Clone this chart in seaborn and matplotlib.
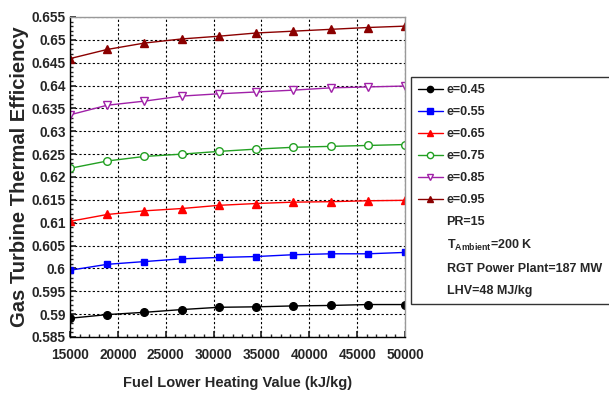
import numpy as np
import pandas as pd
import matplotlib
matplotlib.use("Agg")
import matplotlib.pyplot as plt
from matplotlib.lines import Line2D
from matplotlib.ticker import MultipleLocator, FormatStrFormatter
import seaborn as sns

lhv = [15000, 18889, 22778, 26667, 30556, 34444, 38333, 42222, 46111, 50000]
eff_045 = [0.5891, 0.5899, 0.5904, 0.5910, 0.5915, 0.5916, 0.5918, 0.5919, 0.5921, 0.5921]
eff_055 = [0.5996, 0.6009, 0.6015, 0.6021, 0.6024, 0.6026, 0.6030, 0.6032, 0.6032, 0.6035]
eff_065 = [0.6103, 0.6118, 0.6126, 0.6131, 0.6138, 0.6142, 0.6145, 0.6146, 0.6148, 0.6149]
eff_075 = [0.6219, 0.6235, 0.6245, 0.6250, 0.6256, 0.6261, 0.6265, 0.6267, 0.6269, 0.6271]
eff_085 = [0.6336, 0.6357, 0.6366, 0.6377, 0.6382, 0.6386, 0.6390, 0.6395, 0.6397, 0.6399]
eff_095 = [0.6459, 0.6479, 0.6493, 0.6502, 0.6508, 0.6515, 0.6519, 0.6523, 0.6527, 0.6530]
series_labels = ["e=0.45", "e=0.55", "e=0.65", "e=0.75", "e=0.85", "e=0.95"]
extra_labels = ["PR=15", r"T$_{\mathbf{Ambient}}$=200 K", "RGT Power Plant=187 MW", "LHV=48 MJ/kg"]
xticks = [15000, 20000, 25000, 30000, 35000, 40000, 45000, 50000]
yticks = [0.585, 0.59, 0.595, 0.6, 0.605, 0.61, 0.615, 0.62, 0.625, 0.63, 0.635, 0.64, 0.645, 0.65, 0.655]

all_series = [eff_045, eff_055, eff_065, eff_075, eff_085, eff_095]
df = pd.DataFrame({
    "LHV": lhv * len(all_series),
    "eff": [v for s in all_series for v in s],
    "e": [lab for lab in series_labels for _ in lhv],
})

sns.set_theme(style="white")
fam = "Liberation Sans"
plt.rcParams["font.family"] = [fam, "DejaVu Sans"]
plt.rcParams["font.weight"] = "bold"
plt.rcParams["mathtext.fontset"] = "custom"
plt.rcParams["mathtext.bf"] = fam + ":bold"
plt.rcParams["mathtext.rm"] = fam + ":bold"

colors = ["black", "#0000FF", "#FF0000", "#22A022", "#A020A8", "#8B0000"]
markers = ["o", "s", "^", "o", "v", "^"]
msizes = [5.5, 5, 6, 5.5, 6, 6]
mfc = ["black", "#0000FF", "#FF0000", "white", "white", "#8B0000"]

fig = plt.figure(figsize=(6.09, 3.99), dpi=100)
ax = fig.add_axes([70/609, 1 - 337/399, 335/609, 320/399])

handles = []
for lab, c, m, ms, fc in zip(series_labels, colors, markers, msizes, mfc):
    sub = df[df["e"] == lab]
    sns.lineplot(data=sub, x="LHV", y="eff", ax=ax, color=c, linewidth=1.0,
                 marker=m, markersize=ms, markerfacecolor=fc,
                 markeredgecolor=c, markeredgewidth=1.0, legend=False)
    handles.append(Line2D([], [], color=c, lw=1.0, marker=m, markersize=ms - 1,
                          markerfacecolor=fc, markeredgecolor=c))

ax.set_xlim(15000, 50000)
ax.set_ylim(0.585, 0.655)
ax.set_xticks(xticks)
ax.set_yticks(yticks)
ax.yaxis.set_major_formatter(FormatStrFormatter("%g"))
ax.xaxis.set_minor_locator(MultipleLocator(1000))
ax.yaxis.set_minor_locator(MultipleLocator(0.001))
ax.tick_params(axis="both", which="major", direction="in", length=4, labelsize=9.8)
ax.tick_params(axis="x", which="major", pad=8)
ax.tick_params(axis="y", which="major", pad=3)
ax.tick_params(axis="both", which="minor", direction="in", length=2)
ax.tick_params(axis="both", which="both", bottom=True, left=True, top=False, right=False)
ax.grid(True, which="major", linestyle=(0, (2, 2)), color="black", linewidth=0.8)
for sp in ["left", "bottom"]:
    ax.spines[sp].set_color("black")
    ax.spines[sp].set_linewidth(1.0)
for sp in ["top", "right"]:
    ax.spines[sp].set_color("#999999")
    ax.spines[sp].set_linewidth(1.0)
ax.set_xlabel("Fuel Lower Heating Value (kJ/kg)", fontsize=10.5, fontweight="bold", labelpad=10)
ax.set_ylabel("Gas Turbine Thermal Efficiency", fontsize=14.5, fontweight="bold", labelpad=2)

blank = [Line2D([], [], color="none") for _ in extra_labels]
leg = fig.legend(handles + blank, series_labels + extra_labels,
                 loc="upper left", bbox_to_anchor=(411/609, 0, 0.4, 1 - 77/399),
                 mode="expand",
                 frameon=True, fancybox=False, edgecolor="black",
                 prop={"family": fam, "weight": "bold", "size": 9},
                 handlelength=2.0, handletextpad=0.3, labelspacing=0.8,
                 borderpad=0.55, borderaxespad=0)
leg.get_frame().set_linewidth(1.0)

fig.savefig("out.png", dpi=100)
